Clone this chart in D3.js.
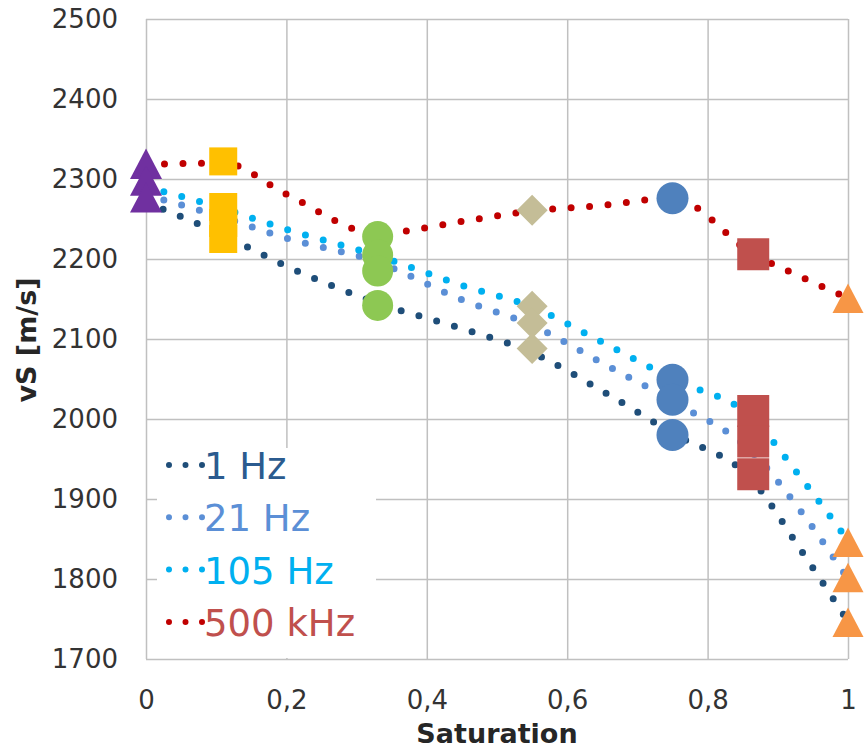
<!DOCTYPE html>
<html lang="de">
<head>
    <meta charset="UTF-8">
    <title>vS vs Saturation</title>
    <script src="https://d3js.org/d3.v7.min.js"></script>
    <style>
        body { margin: 0; background: #fff; }
        .tick text { font-family: "DejaVu Sans", sans-serif; font-size: 26px; fill: #333; }
        .tick line { stroke: #c0c0c0; stroke-width: 1.5px; }
        .axis-title { font-family: "DejaVu Sans", sans-serif; font-size: 27px; font-weight: bold; fill: #262626; }
        .legend-text { font-family: "DejaVu Sans", sans-serif; font-size: 37px; }
    </style>
</head>
<body>
<svg width="865" height="749"></svg>
<script>
    // model curves (dotted lines)
    const satLine  = [0, 0.11, 0.2, 0.33, 0.45, 0.55, 0.65, 0.75, 0.865, 0.93, 1];
    const vs1Hz    = [2271, 2230, 2191, 2145, 2113, 2083, 2035, 1982, 1922, 1840, 1747];
    const vs21Hz   = [2280, 2252, 2226, 2196, 2149, 2117, 2070, 2022, 1957, 1888, 1800];
    const vs105Hz  = [2290, 2263, 2237, 2204, 2167, 2140, 2096, 2050, 2000, 1930, 1848];
    const vs500kHz = [2318, 2320, 2281, 2232, 2247, 2260, 2267, 2276, 2206, 2179, 2151];
    const lineNames = ["1 Hz", "21 Hz", "105 Hz", "500 kHz"];

    // measured points, one group per saturation
    const markerSat = [0, 0.11, 0.33, 0.55, 0.75, 0.865, 1];
    const markerVs = [
        [2319, 2298, 2277],
        [2322, 2265, 2245, 2225],
        [2228, 2205, 2185, 2142],
        [2261, 2141, 2120, 2088],
        [2276, 2049, 2024, 1980],
        [2206, 2010, 1972, 1931],
        [2151, 1846, 1802, 1746]
    ];

    const yTicks = [1700, 1800, 1900, 2000, 2100, 2200, 2300, 2400, 2500];
    const xTicks = [0, 0.2, 0.4, 0.6, 0.8, 1];

    const lineColors = ["#1f4e79", "#5b8fd6", "#00b0f0", "#c00000"];
    const legendColors = ["#2b5b8f", "#5b8fd6", "#00b0f0", "#c0504d"];
    const markerStyle = [
        { shape: "triangle", color: "#7030a0", size: 32 },
        { shape: "square", color: "#ffc000", size: 28 },
        { shape: "circle", color: "#8dc853", size: 31 },
        { shape: "diamond", color: "#c4bd97", size: 31 },
        { shape: "circle", color: "#4f81bd", size: 32 },
        { shape: "square", color: "#c0504d", size: 32 },
        { shape: "triangle", color: "#f79646", size: 31 }
    ];

    const margin = { top: 19, right: 17, bottom: 90, left: 146 },
          width = 865 - margin.left - margin.right,
          height = 749 - margin.top - margin.bottom;

    const x = d3.scaleLinear().domain([0, 1]).range([0, width]);
    const y = d3.scaleLinear().domain([1700, 2500]).range([height, 0]);

    const svg = d3.select("svg")
      .append("g")
        .attr("transform", "translate(" + margin.left + "," + margin.top + ")");

    // axes with gridlines
    svg.append("g")
        .attr("class", "y axis")
        .call(d3.axisLeft(y).tickValues(yTicks).tickSizeInner(-width).tickSizeOuter(0).tickPadding(28)
            .tickFormat(d3.format("d")))
        .call(g => g.select(".domain").remove());

    svg.append("g")
        .attr("class", "x axis")
        .attr("transform", "translate(0," + height + ")")
        .call(d3.axisBottom(x).tickValues(xTicks).tickSizeInner(-height).tickSizeOuter(0).tickPadding(32)
            .tickFormat(d => String(d).replace(".", ",")))
        .call(g => g.select(".domain").remove());

    // legend box sits over the grid
    const legend = svg.append("g").attr("transform", "translate(11," + (448 - margin.top) + ")");
    legend.append("rect")
        .attr("width", 219)
        .attr("height", 210)
        .attr("fill", "#fff");

    // dotted curves
    const allSeries = [vs1Hz, vs21Hz, vs105Hz, vs500kHz];
    const line = d3.line()
        .x((d, i) => x(satLine[i]))
        .y(d => y(d))
        .curve(d3.curveMonotoneX);

    svg.selectAll(".model")
        .data(allSeries)
      .enter().append("path")
        .attr("class", "model")
        .attr("d", line)
        .attr("fill", "none")
        .attr("stroke", (d, i) => lineColors[i])
        .attr("stroke-width", 7)
        .attr("stroke-linecap", "round")
        .attr("stroke-dasharray", "0 18.5");

    legend.selectAll(".entry")
        .data(lineNames)
      .enter().append("g")
        .attr("class", "entry")
        .attr("transform", (d, i) => "translate(0," + (17 + i * 52.3) + ")")
        .each(function(d, i) {
            const g = d3.select(this);
            g.append("line")
                .attr("x1", 12).attr("x2", 45.5)
                .attr("stroke", lineColors[i])
                .attr("stroke-width", 6)
                .attr("stroke-linecap", "round")
                .attr("stroke-dasharray", "0 16.5");
            g.append("text")
                .attr("class", "legend-text")
                .attr("x", 47)
                .attr("y", 14)
                .attr("fill", legendColors[i])
                .text(d);
        });

    function shapePath(shape, s) {
        const h = s / 2;
        if (shape === "square") return `M${-h},${-h}H${h}V${h}H${-h}Z`;
        if (shape === "diamond") return `M0,${-h}L${h},0L0,${h}L${-h},0Z`;
        if (shape === "triangle") return `M0,${-h * 0.95}L${h},${h * 0.95}L${-h},${h * 0.95}Z`;
        return d3.arc()({ innerRadius: 0, outerRadius: h, startAngle: 0, endAngle: 2 * Math.PI });
    }

    // measured markers on top
    markerVs.forEach((vals, gi) => {
        const st = markerStyle[gi];
        svg.selectAll(".m" + gi)
            .data(vals)
          .enter().append("path")
            .attr("class", "m" + gi)
            .attr("transform", d => "translate(" + x(markerSat[gi]) + "," + y(d) + ")")
            .attr("d", shapePath(st.shape, st.size))
            .attr("fill", st.color);
    });

    // titles
    svg.append("text")
        .attr("class", "axis-title")
        .attr("x", width / 2)
        .attr("y", height + 84)
        .attr("text-anchor", "middle")
        .text("Saturation");

    svg.append("text")
        .attr("class", "axis-title")
        .attr("transform", "translate(" + (36 - margin.left) + "," + (340 - margin.top) + ") rotate(-90)")
        .attr("text-anchor", "middle")
        .text("vS [m/s]");
</script>
</body>
</html>
